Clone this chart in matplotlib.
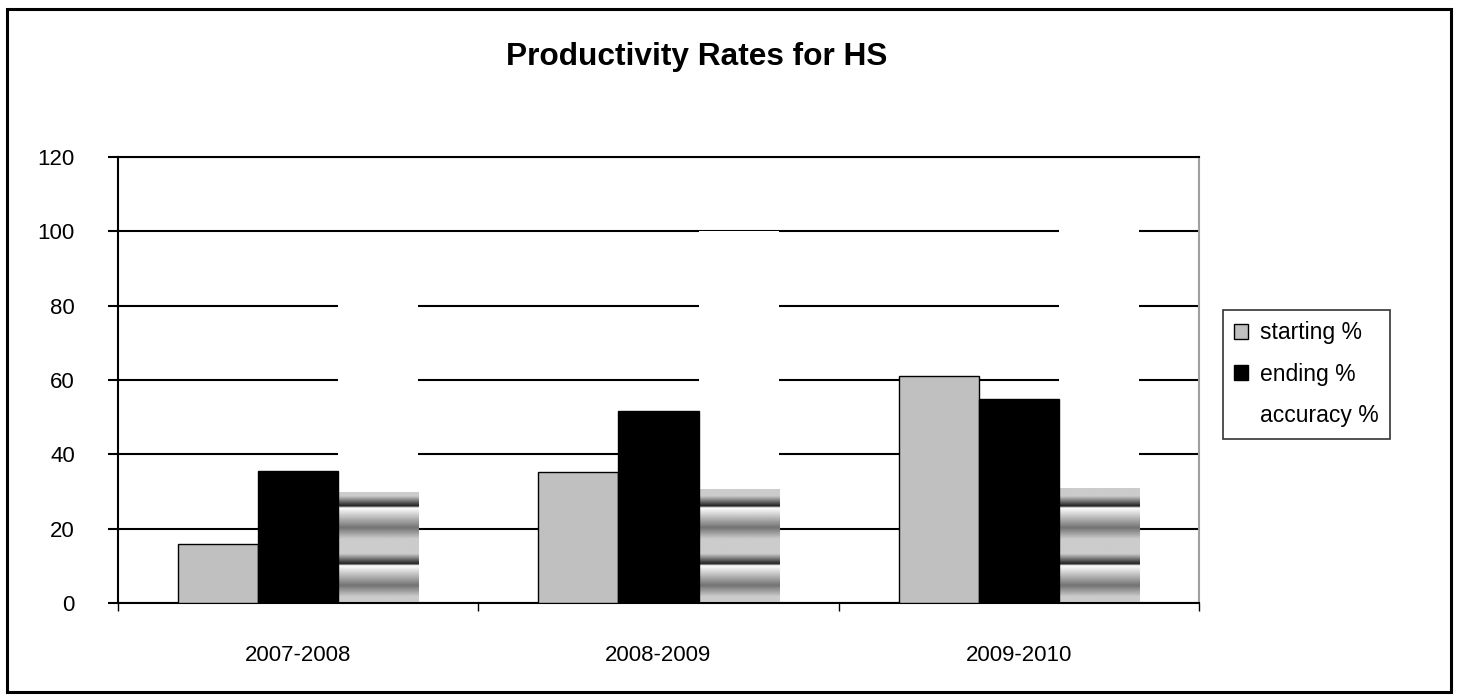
import numpy as np
import matplotlib.pyplot as plt
from matplotlib.patches import Patch, Rectangle

plt.rcParams['font.family'] = ['Liberation Sans', 'DejaVu Sans']

## data
years = ["2007-2008", "2008-2009", "2009-2010"]
starting = [16.0, 35.3, 61.1]
ending = [35.4, 51.6, 54.9]
accuracy = [29.7, 30.5, 30.8]
# the picture fill of accuracy leaves a white block that hides the gridlines
accuracy_backdrop = [90, 100, 115]
y_ticks = [0, 20, 40, 60, 80, 100, 120]
series_labels = ["starting %", "ending %", "accuracy %"]


def stripe_profile(y):
    """grey banding like the excel picture fill"""
    s = (26.0 - y) % 15.5
    return np.interp(s, [0, 0.5, 5.8, 8.8, 12.8, 14.6, 15.5],
                     [0.12, 1.0, 0.45, 0.8, 0.8, 0.35, 0.12])


fig = plt.figure(figsize=(14.58, 7.0), dpi=100)
ax = fig.add_axes([118 / 1458, 1 - 603 / 700, (1199 - 118) / 1458, (603 - 157) / 700])

x = np.arange(len(years))
w = 2 / 9

ax.bar(x - w, starting, w, color="#C0C0C0", edgecolor="black", linewidth=1, zorder=3)
ax.bar(x, ending, w, color="black", edgecolor="black", linewidth=1, zorder=3)
ax.bar(x + w, accuracy_backdrop, w, color="white", linewidth=0, zorder=1)

# accuracy bars with the banded fill
for xi, h in zip(x, accuracy):
    ys = np.linspace(0, h, 400)
    tex = stripe_profile(ys)[:, None]
    ax.imshow(tex, cmap="gray", vmin=0, vmax=1, aspect="auto", origin="lower",
              extent=(xi + w / 2, xi + 1.5 * w, 0, h), zorder=2, interpolation="bilinear")

ax.set_xlim(-0.5, 2.5)
ax.set_ylim(0, 120)
ax.set_yticks(y_ticks)
ax.set_yticklabels([str(v) for v in y_ticks])
ax.yaxis.grid(True, color="black", linewidth=1.5, zorder=0)
ax.set_axisbelow(True)

# category ticks sit between groups, labels in the middle
ax.set_xticks([-0.5, 0.5, 1.5, 2.5])
ax.set_xticklabels([])
ax.set_xticks(x, minor=True)
ax.set_xticklabels(years, minor=True)
ax.tick_params(axis="x", which="major", length=6, width=1, direction="out")
ax.tick_params(axis="x", which="minor", length=0, pad=30, labelsize=16)
ax.tick_params(axis="y", length=7, width=1.5, direction="out", pad=24, labelsize=16)

for side in ["left", "bottom", "top"]:
    ax.spines[side].set_color("black")
    ax.spines[side].set_linewidth(1.5)
ax.spines["right"].set_color("#A0A0A0")
ax.spines["right"].set_linewidth(1.5)

fig.text(697 / 1458, 1 - 57 / 700, "Productivity Rates for HS", ha="center", va="center",
         fontsize=22.8, fontweight="bold")

handles = [
    Patch(facecolor="#C0C0C0", edgecolor="black", linewidth=1),
    Patch(facecolor="black", edgecolor="black", linewidth=1),
    Patch(facecolor="white", edgecolor="white", linewidth=0),
]
leg = fig.legend(handles, series_labels, loc="upper left",
                 bbox_to_anchor=(1223 / 1458, 1 - 310 / 700), borderaxespad=0,
                 fontsize=16.5, fancybox=False, frameon=True, handlelength=0.6,
                 handleheight=0.6, handletextpad=0.5, labelspacing=0.8, borderpad=0.5)
leg.get_frame().set_edgecolor("black")
leg.get_frame().set_linewidth(1.2)

# outer chart border
fig.patches.append(Rectangle((7 / 1458, 8 / 700), (1451 - 7) / 1458, (692 - 9) / 700,
                             transform=fig.transFigure, fill=False, edgecolor="black", linewidth=2.2))

fig.savefig("out.png", dpi=100)
